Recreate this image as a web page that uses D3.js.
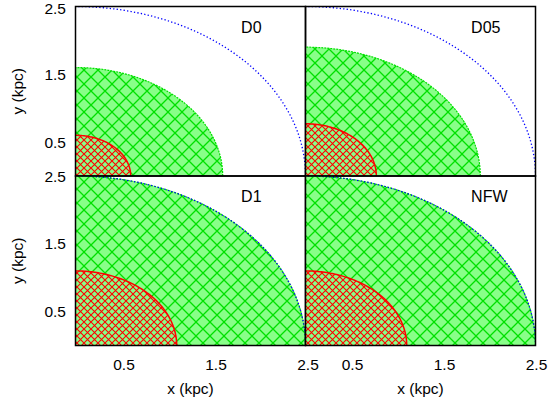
<!DOCTYPE html>
<html><head><meta charset="utf-8">
<script src="https://cdn.jsdelivr.net/npm/d3@7"></script>
<style>body{margin:0;background:#fff}svg{display:block}text{font-family:"Liberation Sans",Arial,sans-serif;fill:#000}</style>
</head><body>
<script>
const panels = ["D0", "D05", "D1", "NFW"];
const greenRadius = [1.6, 1.9, 2.5, 2.5];
const redRadius = [0.6, 0.77, 1.1, 1.1];
const outerRadius = [2.5, 2.5, 2.5, 2.5];
const xTicks = [0.5, 1.5, 2.5];
const yTicks = [0.5, 1.5, 2.5];
const xLabel = "x (kpc)", yLabel = "y (kpc)";

const W = 555, H = 403;
const svg = d3.select("body").append("svg").attr("width", W).attr("height", H);
const defs = svg.append("defs");

function hatch(id, s, color, bg, w) {
  const p = defs.append("pattern").attr("id", id).attr("patternUnits", "userSpaceOnUse")
    .attr("width", s).attr("height", s);
  if (bg) p.append("rect").attr("width", s).attr("height", s).attr("fill", bg);
  p.append("path").attr("d", `M0,0L${s},${s}M0,${s}L${s},0`)
    .attr("stroke", color).attr("stroke-width", w).attr("fill", "none");
}
hatch("gh", 14, "#00e000", "#88ff88", 1.3);
hatch("rh", 7, "#ff0000", "#88ff88", 1.1);

const colX = [75.5, 305.5], rowY = [6.5, 176], pw = 230, ph = 169.5;

panels.forEach((name, i) => {
  const c = i % 2, r = Math.floor(i / 2);
  const x = d3.scaleLinear().domain([0, 2.5]).range([colX[c], colX[c] + pw]);
  const y = d3.scaleLinear().domain([0, 2.5]).range([rowY[r] + ph, rowY[r]]);
  const clipId = "clip" + i;
  defs.append("clipPath").attr("id", clipId).append("rect")
    .attr("x", colX[c]).attr("y", rowY[r]).attr("width", pw).attr("height", ph);
  const g = svg.append("g").attr("clip-path", `url(#${clipId})`);
  const angles = d3.range(0, 91, 1).map(a => a * Math.PI / 180);
  const arcPts = rad => angles.map(a => [x(rad * Math.cos(a)), y(rad * Math.sin(a))]);
  const sector = rad => d3.line()([[x(0), y(0)], ...arcPts(rad)]) + "Z";
  const arc = rad => d3.line()(arcPts(rad));

  g.append("path").attr("d", sector(greenRadius[i])).attr("fill", "url(#gh)");
  g.append("path").attr("d", arc(greenRadius[i])).attr("fill", "none")
    .attr("stroke", "#00e000").attr("stroke-width", 1.2).attr("stroke-dasharray", "2,1");
  g.append("path").attr("d", sector(redRadius[i])).attr("fill", "url(#rh)");
  g.append("path").attr("d", arc(redRadius[i])).attr("fill", "none")
    .attr("stroke", "#ff0000").attr("stroke-width", 1.5);
  g.append("path").attr("d", arc(outerRadius[i])).attr("fill", "none")
    .attr("stroke", "#0000ff").attr("stroke-width", 1.3).attr("stroke-dasharray", "1.3,2.2");

  svg.append("rect").attr("x", colX[c]).attr("y", rowY[r]).attr("width", pw).attr("height", ph)
    .attr("fill", "none").attr("stroke", "#000").attr("stroke-width", 1.5);

  svg.append("text").attr("x", x(1.8)).attr("y", y(2.11)).attr("font-size", 16).text(name);

  if (c === 0) {
    yTicks.forEach(t => svg.append("text").attr("x", 66).attr("y", Math.max(y(t), 8)).attr("dy", "0.36em")
      .attr("text-anchor", "end").attr("font-size", 15.5).text(d3.format(".1f")(t)));
    svg.append("text").attr("transform", `translate(23,${(rowY[r] + ph / 2)}) rotate(-90)`)
      .attr("text-anchor", "middle").attr("font-size", 15.5).text(yLabel);
  }
  if (r === 1) {
    const off = c === 0 ? 2.5 : 1;
    xTicks.forEach(t => svg.append("text").attr("x", x(t) + off).attr("y", 369.5)
      .attr("text-anchor", "middle").attr("font-size", 15.5).text(d3.format(".1f")(t)));
    svg.append("text").attr("x", colX[c] + pw / 2).attr("y", 393.5)
      .attr("text-anchor", "middle").attr("font-size", 15.5).text(xLabel);
  }
});
</script>
</body></html>
